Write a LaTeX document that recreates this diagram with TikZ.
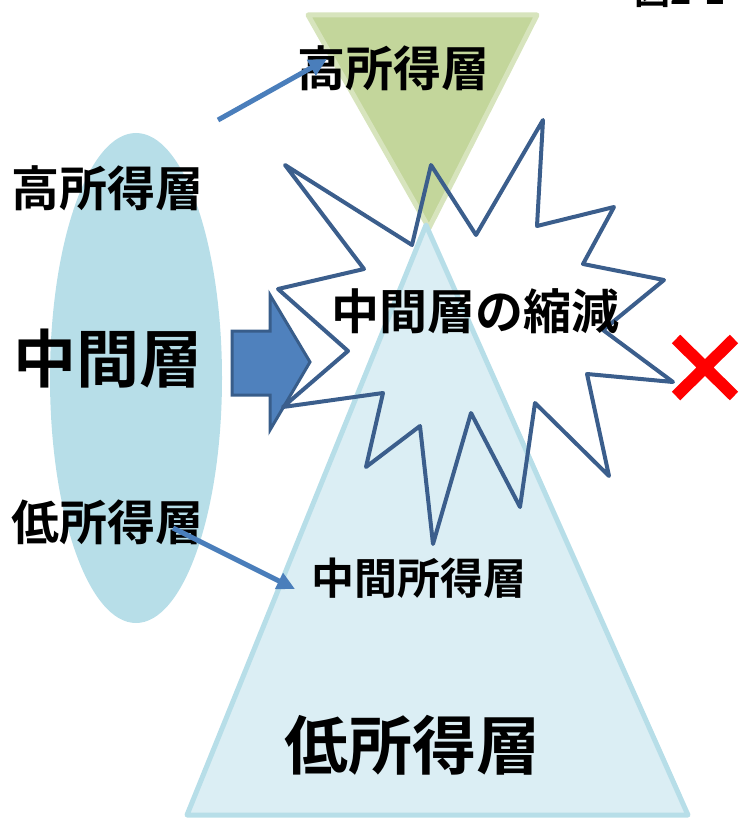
\documentclass[tikz,border=0pt]{standalone}
\usepackage{fontspec}
\setmainfont{Noto Sans CJK JP}[BoldFont={Noto Sans CJK JP Bold}]
\usepackage{xcolor}
\usetikzlibrary{arrows.meta}

\definecolor{ellfill}{HTML}{B7DEE8}
\definecolor{grnfill}{HTML}{C3D69B}
\definecolor{grnline}{HTML}{D7E4BD}
\definecolor{trifill}{HTML}{DBEEF4}
\definecolor{triline}{HTML}{B7DEE8}
\definecolor{blkfill}{HTML}{4F81BD}
\definecolor{blkline}{HTML}{385D8A}
\definecolor{starline}{HTML}{3B5E8C}
\definecolor{arrline}{HTML}{4A7EBB}

\tikzset{
  lbl/.style={inner sep=0pt, font=\bfseries\fontsize{#1}{#1}\selectfont},
  thinarrow/.style={draw=arrline, line width=5pt, -{Triangle[length=18pt,width=17pt]}},
  burst/.style={draw=starline, line width=4pt, line join=round}
}

\begin{document}
\begin{tikzpicture}[x=1pt, y=-1pt]
    \useasboundingbox (0,0) rectangle (738,818);

    % Caption (cut off at the top)
    \node[lbl=36, anchor=base west] (cap) at (634,5) {図2-1};

    % Ellipse
    \fill[ellfill] (136,378) ellipse (86 and 245);

    % Top triangle
    \draw[fill=grnfill, draw=grnline, line width=5pt, line join=round] (308,15) -- (537,15) -- (429,228) -- cycle;

    % Pyramid
    \draw[fill=trifill, draw=triline, line width=5pt, line join=round] (426,225) -- (688,815) -- (187,815) -- cycle;

    % Block arrow
    \draw[fill=blkfill, draw=blkline, line width=3pt] (232,331) -- (270,331) -- (270,295) -- (310,362) -- (270,430) -- (270,395) -- (232,395) -- cycle;

    % Burst
    \draw[burst] (285,165) -- (412,245) -- (431,165) -- (476,235) -- (543,120) -- (537,226)
        -- (614,207) -- (583,264) -- (664,280) -- (603,330) -- (673,382) -- (587,374)
        -- (609,476) -- (535,403) -- (520,507) -- (471,413) -- (433,544) -- (420,426)
        -- (366,467) -- (383,393) -- (283,407) -- (348,351) -- (278,289) -- (364,269) -- cycle;

    % Red cross
    \draw[red, line width=12pt] (676,339) -- (734,396) (676,396) -- (734,339);

    % Labels
    \node[lbl=48] (hiL) at (107,188) {高所得層};
    \node[lbl=63] (midL) at (108,359) {中間層};
    \node[lbl=48] (loL) at (107,522) {低所得層};
    \node[lbl=48] (hiT) at (393,68) {高所得層};
    \node[lbl=48] (shrink) at (475,311) {中間層の縮減};
    \node[lbl=43] (midT) at (419,578) {中間所得層};
    \node[lbl=64] (loT) at (412,745) {低所得層};

    % Arrows
    \coordinate (hiA) at (218,120);
    \coordinate (hiB) at (327,59);
    \coordinate (loA) at (173,528);
    \coordinate (loB) at (295,589);
    \draw[thinarrow] (hiA) -- (hiB);
    \draw[thinarrow] (loA) -- (loB);
\end{tikzpicture}
\end{document}
